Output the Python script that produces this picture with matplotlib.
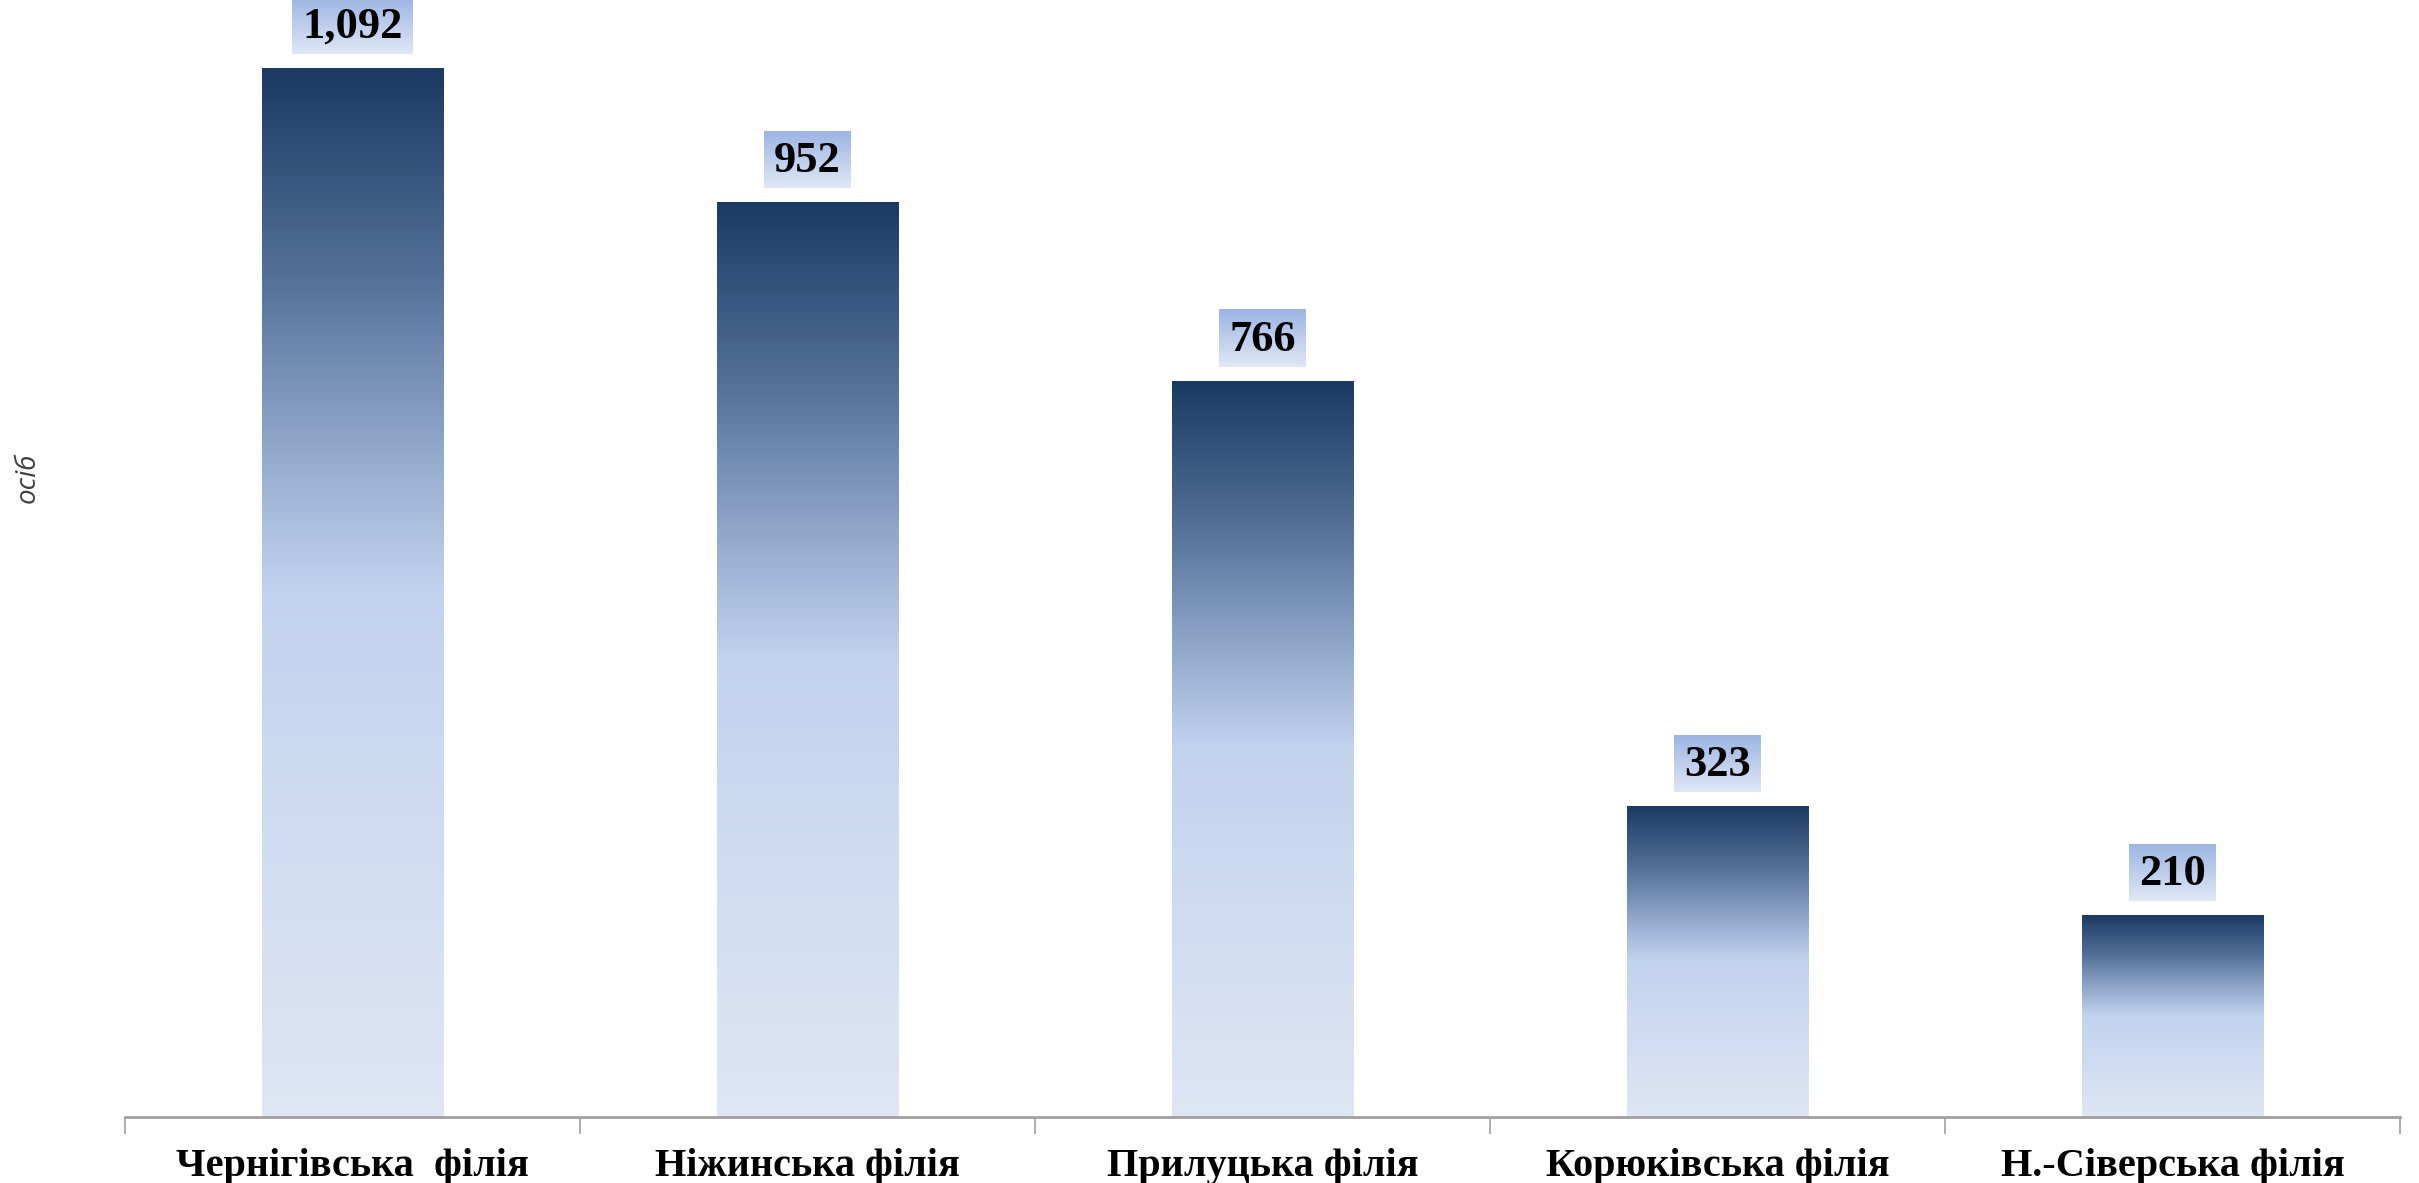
import numpy as np
import matplotlib
matplotlib.use("Agg")
import matplotlib.pyplot as plt
from matplotlib.colors import LinearSegmentedColormap

branches = ["Чернігівська  філія", "Ніжинська філія", "Прилуцька філія",
            "Корюківська філія", "Н.-Сіверська філія"]
people = [1092, 952, 766, 323, 210]

bar_cmap = LinearSegmentedColormap.from_list(
    "bar", [(0.0, "#dfe6f4"), (0.5, "#c2d3ef"), (0.62, "#98aed0"),
            (0.8, "#55719a"), (1.0, "#1b3a63")])
box_cmap = LinearSegmentedColormap.from_list("box", ["#e0e7f5", "#9cb5e4"])
grad = np.linspace(0, 1, 256).reshape(-1, 1)

fig = plt.figure(figsize=(24.19, 11.83), dpi=100)
ax = fig.add_axes([125 / 2419, 1 - 1117 / 1183, (2400 - 125) / 2419, 1117 / 1183])
ax.set_xlim(-0.5, len(people) - 0.5)
ax.set_ylim(0, 1163)

w = 0.4
for i, v in enumerate(people):
    ax.imshow(grad, cmap=bar_cmap, origin="lower", aspect="auto",
              extent=[i - w / 2, i + w / 2, 0, v], zorder=2)

serif = ["Liberation Serif", "DejaVu Serif"]
labels = []
for i, v in enumerate(people):
    t = ax.text(i, v + 43, f"{v:,}", ha="center", va="center",
                fontsize=32, fontweight="bold", family=serif, zorder=4)
    labels.append(t)

# gradient boxes behind the value labels
fig.canvas.draw()
r = fig.canvas.get_renderer()
inv = ax.transData.inverted()
for t in labels:
    bb = t.get_window_extent(r)
    x0, y0 = inv.transform((bb.x0 - 10, bb.y0 - 7))
    x1, y1 = inv.transform((bb.x1 + 10, bb.y1 + 10))
    ax.imshow(grad, cmap=box_cmap, origin="lower", aspect="auto",
              extent=[x0, x1, y0, y1], zorder=3)

ax.set_xlim(-0.5, len(people) - 0.5)
ax.set_ylim(0, 1163)

for s in ["top", "right", "left"]:
    ax.spines[s].set_visible(False)
ax.spines["bottom"].set_color("#a0a0a0")
ax.spines["bottom"].set_linewidth(2)
ax.set_yticks([])

ax.set_xticks(np.arange(-0.5, len(people), 1.0))
ax.set_xticklabels([])
ax.tick_params(axis="x", which="major", length=12, width=1.2, color="#a0a0a0",
               direction="out")
ax.set_xticks(np.arange(len(people)), minor=True)
ax.set_xticklabels(branches, minor=True, fontsize=29, fontweight="bold",
                   family=serif)
ax.tick_params(axis="x", which="minor", length=0, pad=22)

fig.text(28 / 2419, 1 - 478 / 1183, "осіб", rotation=90, ha="center", va="center",
         fontsize=20, style="italic", family=["Open Sans", "DejaVu Sans"],
         color="#404040")

fig.savefig("out.png", dpi=100)
